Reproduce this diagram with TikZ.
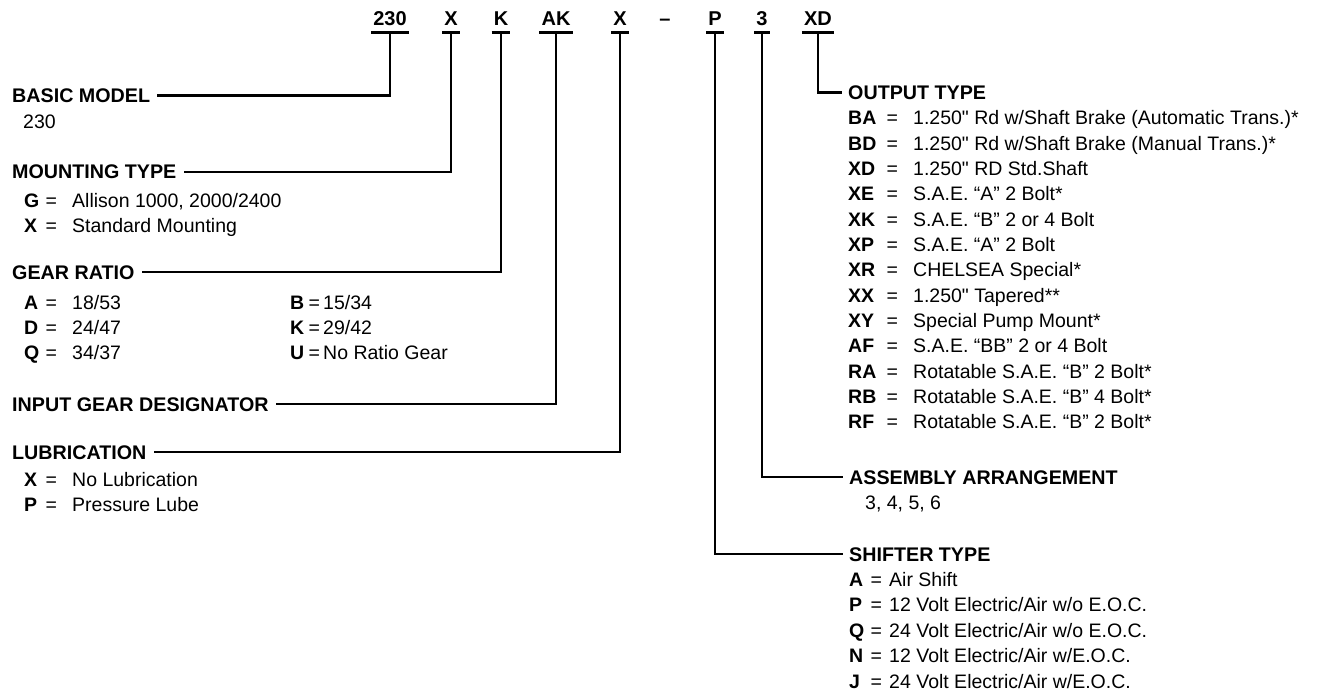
\documentclass[tikz,border=0pt]{standalone}
\usepackage{fontspec}
\setmainfont{Liberation Sans}
\newfontfamily\plainq{Liberation Sans}
\usetikzlibrary{positioning}

% key = value rows (key box, = box, gap)
\newcommand{\keyl}[2]{\makebox[21pt][l]{\bfseries #1}\makebox[12pt][c]{=}\hspace{15pt}#2}
\newcommand{\keyg}[2]{\makebox[18pt][l]{\bfseries #1}\makebox[12pt][c]{=}\hspace{3pt}#2}
\newcommand{\keyo}[2]{\makebox[38pt][l]{\bfseries #1}\makebox[12pt][c]{=}\hspace{15pt}#2}
\newcommand{\keys}[2]{\makebox[21pt][l]{\bfseries #1}\makebox[12pt][c]{=}\hspace{7pt}#2}
\newcommand{\inch}{{\plainq"}}

\tikzset{
  code/.style={font=\fontsize{20}{20}\selectfont\bfseries, anchor=base, inner xsep=2pt, inner ysep=6pt, text height=14.3pt, text depth=0pt},
  lhead/.style={font=\fontsize{19.7}{22}\selectfont\bfseries, anchor=west, inner xsep=7pt, text height=14pt, text depth=0pt},
  rhead/.style={font=\fontsize{19.7}{22}\selectfont\bfseries, anchor=west, inner xsep=6pt, text height=14pt, text depth=0pt},
  item/.style={font=\fontsize{19.5}{22}\selectfont, anchor=west, inner sep=0pt, text height=14pt, text depth=0pt},
  bar/.style={line width=3pt},
  lead/.style={line width=2.6pt}
}

\begin{document}
\begin{tikzpicture}[x=1pt, y=-1pt]
  \useasboundingbox (0,0) rectangle (1320,695);

  %--- model code ---
  \node[code] (c230) at (390,26) {230};
  \node[code] (cX) at (451,26) {X};
  \node[code] (cK) at (501,26) {K};
  \node[code] (cAK) at (556,26) {AK};
  \node[code] (cLub) at (620,26) {X};
  \node[code] (cDash) at (665,26) {--};
  \node[code] (cP) at (715,26) {P};
  \node[code] (c3) at (762,26) {3};
  \node[code] (cXD) at (818,26) {XD};
  \foreach \c in {c230,cX,cK,cAK,cLub,cP,c3,cXD}
    \draw[bar] (\c.south west) -- (\c.south east);

  %--- left column ---
  \node[lhead] (basic) at (5,95.5) {BASIC MODEL};
  \node[item] (basicv) at (23,121.5) {230};

  \node[lhead] (mount) at (5,172) {MOUNTING TYPE};
  \node[item] (mountG) at (24,200.5) {\keyl{G}{Allison 1000, 2000/2400}};
  \node[item] (mountX) at (24,225.5) {\keyl{X}{Standard Mounting}};

  \node[lhead] (gear) at (5,272) {GEAR RATIO};
  \node[item] (gearA) at (24,302) {\keyl{A}{18/53}};
  \node[item] (gearD) at (24,327) {\keyl{D}{24/47}};
  \node[item] (gearQ) at (24,352) {\keyl{Q}{34/37}};
  \node[item] (gearB) at (290,302) {\keyg{B}{15/34}};
  \node[item] (gearK) at (290,327) {\keyg{K}{29/42}};
  \node[item] (gearU) at (290,352) {\keyg{U}{No Ratio Gear}};

  \node[lhead] (input) at (5,404) {INPUT GEAR DESIGNATOR};

  \node[lhead] (lube) at (5,452) {LUBRICATION};
  \node[item] (lubeX) at (24,479) {\keyl{X}{No Lubrication}};
  \node[item] (lubeP) at (24,504) {\keyl{P}{Pressure Lube}};

  %--- right column ---
  \node[rhead] (output) at (842,92.5) {OUTPUT TYPE};
  \foreach \k/\d [count=\i from 0] in {
      BA/{1.250\inch{} Rd w/Shaft Brake (Automatic Trans.)*},
      BD/{1.250\inch{} Rd w/Shaft Brake (Manual Trans.)*},
      XD/{1.250\inch{} RD Std.Shaft},
      XE/{S.A.E. “A” 2 Bolt*},
      XK/{S.A.E. “B” 2 or 4 Bolt},
      XP/{S.A.E. “A” 2 Bolt},
      XR/{CHELSEA Special*},
      XX/{1.250\inch{} Tapered**},
      XY/{Special Pump Mount*},
      AF/{S.A.E. “BB” 2 or 4 Bolt},
      RA/{Rotatable S.A.E. “B” 2 Bolt*},
      RB/{Rotatable S.A.E. “B” 4 Bolt*},
      RF/{Rotatable S.A.E. “B” 2 Bolt*}}
    \node[item] (out\k) at (848,{118+25.3*\i}) {\keyo{\k}{\d}};

  \node[rhead] (assy) at (843,477) {ASSEMBLY ARRANGEMENT};
  \node[item] (assyv) at (865,502.5) {3, 4, 5, 6};

  \node[rhead] (shift) at (843,554) {SHIFTER TYPE};
  \foreach \k/\d [count=\i from 0] in {
      A/{Air Shift},
      P/{12 Volt Electric/Air w/o E.O.C.},
      Q/{24 Volt Electric/Air w/o E.O.C.},
      N/{12 Volt Electric/Air w/E.O.C.},
      J/{24 Volt Electric/Air w/E.O.C.}}
    \node[item] (shift\k) at (849,{579.5+25.4*\i}) {\keys{\k}{\d}};

  %--- leaders ---
  \draw[lead] (c230.south) |- (basic.east);
  \draw[lead] (cX.south) |- (mount.east);
  \draw[lead] (cK.south) |- (gear.east);
  \draw[lead] (cAK.south) |- (input.east);
  \draw[lead] (cLub.south) |- (lube.east);
  \draw[lead] (cXD.south) |- (output.west);
  \draw[lead] (c3.south) |- (assy.west);
  \draw[lead] (cP.south) |- (shift.west);
\end{tikzpicture}
\end{document}
